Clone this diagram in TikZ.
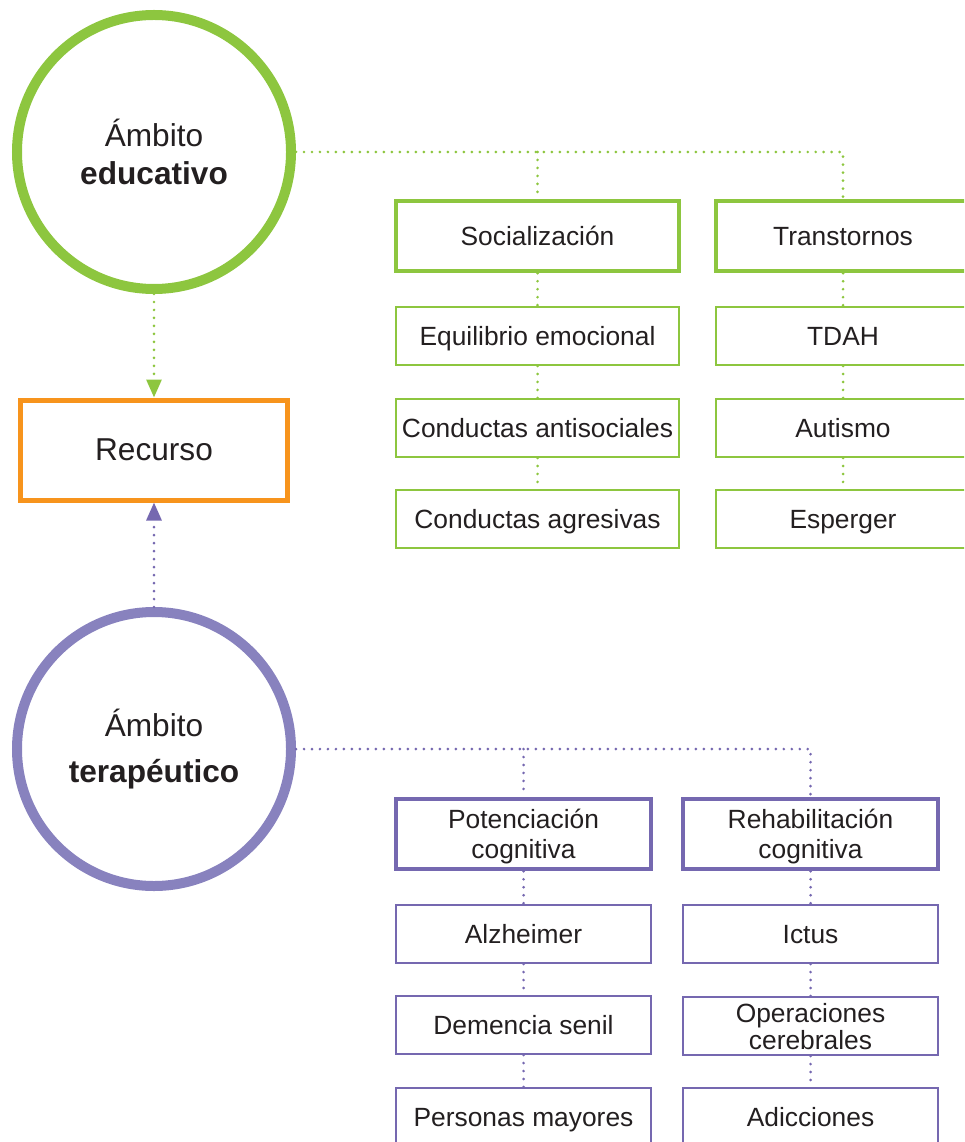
\documentclass[tikz,border=0pt]{standalone}
\usepackage{fontspec}
\setmainfont{Liberation Sans}
\usepackage{tikz}
\definecolor{colorEDU}{RGB}{141,198,63}
\definecolor{colorTER}{RGB}{136,130,190}
\definecolor{colorTERbox}{RGB}{117,104,176}
\definecolor{colorREC}{RGB}{247,148,29}
\definecolor{colorTXT}{RGB}{35,31,32}
\usetikzlibrary{arrows.meta}
\tikzset{
   every node/.style={text=colorTXT},
   ambito/.style={circle,draw=#1,line width=2mm,minimum size=54.8mm,inner sep=0pt,align=center,font=\fontsize{18}{21.6}\selectfont},
   recbox/.style={rectangle,draw=colorREC,line width=1mm,minimum width=53.4mm,minimum height=20mm,font=\fontsize{18}{21.6}\selectfont},
   topic/.style={rectangle,draw=#1,line width=0.9mm,minimum height=14mm,inner sep=0pt,align=center,font=\fontsize{15}{17}\selectfont},
   leaf/.style={rectangle,draw=#1,line width=0.4mm,minimum height=11.6mm,inner sep=0pt,align=center,font=\fontsize{15}{17}\selectfont},
   oneline/.style={text height=10.7pt,text depth=0pt},
   twoline/.style={text depth=0pt},
   colA/.style={minimum width=56.6mm},
   colB/.style={minimum width=50.8mm},
   colC/.style={minimum width=51mm},
   dotline/.style={color=#1,line width=1.7pt,line cap=round,dash pattern=on 0pt off 4.55pt},
   gdot/.style={dotline=colorEDU},
   pdot/.style={dotline=colorTERbox},
   tip/.style={-{Triangle[length=3.6mm,width=3mm]}},
}

\begin{document}
\begin{tikzpicture}[x=0.2mm,y=-0.2mm]
        \useasboundingbox (0,0) rectangle (964,1142);
        \clip (0,0) rectangle (964,1142);

        % left column
        \node[ambito=colorEDU] (edu) at (154, 152) {Ámbito\\\textbf{educativo}};
        \node[recbox]          (rec) at (154, 450) {Recurso};
        \node[ambito=colorTER] (ter) at (154, 749) {Ámbito\\[5pt]\textbf{terapéutico}};

        % educativo
        \node[topic=colorEDU, colA, oneline] (soc)   at (537.5, 236) {Socialización};
        \node[leaf=colorEDU, colA, oneline]  (equi)  at (537.5, 336) {Equilibrio emocional};
        \node[leaf=colorEDU, colA, oneline]  (antis) at (537.5, 428) {Conductas antisociales};
        \node[leaf=colorEDU, colA, oneline]  (agres) at (537.5, 519) {Conductas agresivas};

        \node[topic=colorEDU, colB, oneline] (trans) at (843, 236) {Transtornos};
        \node[leaf=colorEDU, colB, oneline]  (tdah)  at (843, 336) {TDAH};
        \node[leaf=colorEDU, colB, oneline]  (aut)   at (843, 428) {Autismo};
        \node[leaf=colorEDU, colB, oneline]  (esp)   at (843, 519) {Esperger};

        % terapeutico
        \node[topic=colorTERbox, colC, twoline] (poten) at (523.5, 834) {Potenciación\\cognitiva};
        \node[leaf=colorTERbox, colC, oneline]  (alz)   at (523.5, 934) {Alzheimer};
        \node[leaf=colorTERbox, colC, oneline]  (dem)   at (523.5, 1025) {Demencia senil};
        \node[leaf=colorTERbox, colC, oneline]  (mayor) at (523.5, 1117) {Personas mayores};

        \node[topic=colorTERbox, colC, twoline] (rehab) at (810.5, 834) {Rehabilitación\\cognitiva};
        \node[leaf=colorTERbox, colC, oneline]  (ictus) at (810.5, 934) {Ictus};
        \node[leaf=colorTERbox, colC, twoline]  (oper)  at (810.5, 1026) {Operaciones\\[-1.6pt]cerebrales};
        \node[leaf=colorTERbox, colC, oneline]  (adic)  at (810.5, 1117) {Adicciones};

        \draw[gdot, tip] (edu.south) -- (rec.north);
        \draw[pdot, tip] (ter.north) -- (rec.south);

        \draw[gdot] (edu.east) -- (edu.east -| trans.north) -- (trans.north);
        \draw[gdot] (edu.east -| soc.north) -- (soc.north);
        \draw[gdot] (soc) edge (equi) (equi) edge (antis) (antis) edge (agres);
        \draw[gdot] (trans) edge (tdah) (tdah) edge (aut) (aut) edge (esp);

        \draw[pdot] (ter.east) -- (ter.east -| rehab.north) -- (rehab.north);
        \draw[pdot] (ter.east -| poten.north) -- (poten.north);
        \draw[pdot] (poten) edge (alz) (alz) edge (dem) (dem) edge (mayor);
        \draw[pdot] (rehab) edge (ictus) (ictus) edge (oper) (oper) edge (adic);
      \end{tikzpicture}
\end{document}
